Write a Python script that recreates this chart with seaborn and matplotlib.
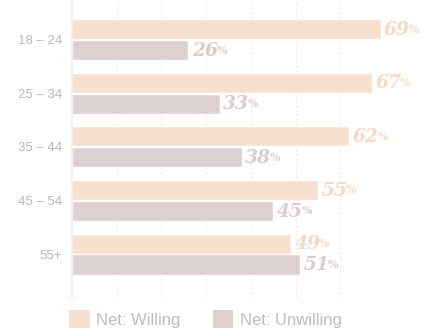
import pandas as pd
import seaborn as sns
import matplotlib.pyplot as plt
from matplotlib.patches import Patch

AGE_GROUPS = ["18 – 24", "25 – 34", "35 – 44", "45 – 54", "55+"]
WILLING = [69, 67, 62, 55, 49]
UNWILLING = [26, 33, 38, 45, 51]
SERIES = ["Net: Willing", "Net: Unwilling"]
COLORS = {"Net: Willing": "#f7e0cd", "Net: Unwilling": "#dcd1d0"}
LABEL_COLORS = {"Net: Willing": "#f5d9c2", "Net: Unwilling": "#d9cdcc"}

df = pd.DataFrame({
    "age": AGE_GROUPS * 2,
    "value": WILLING + UNWILLING,
    "series": [SERIES[0]] * len(AGE_GROUPS) + [SERIES[1]] * len(AGE_GROUPS),
})

sns.set_style("white")
plt.rcParams["font.family"] = ["Liberation Sans", "DejaVu Sans"]

fig = plt.figure(figsize=(4.24, 3.30), dpi=100)
ax = fig.add_axes([72 / 424, 1 - 298 / 330, 313 / 424, 298 / 330])

sns.barplot(data=df, y="age", x="value", hue="series", order=AGE_GROUPS,
            hue_order=SERIES, palette=COLORS, orient="h", width=0.78,
            gap=0.04, saturation=1, legend=False, ax=ax)

ax.set_xlim(0, 70)
ax.set_ylim(4.82, -0.737)
ax.set_xticks(range(10, 71, 10))
ax.xaxis.grid(True, linestyle=(0, (1.5, 2.5)), color="#e6e6e6", linewidth=0.8)
ax.set_axisbelow(True)
ax.tick_params(axis="x", length=0, labelbottom=False)
ax.tick_params(axis="y", length=0, pad=7, labelsize=9.5, labelcolor="#b8b8b8")
ax.set_xlabel("")
ax.set_ylabel("")
for side in ["top", "right", "bottom"]:
    ax.spines[side].set_visible(False)
ax.spines["left"].set_color("#eeeeee")
ax.spines["left"].set_linewidth(1.2)

# value labels: big italic number then a small percent sign
for container, name in zip(ax.containers, SERIES):
    for bar in container:
        val = bar.get_width()
        yc = bar.get_y() + bar.get_height() / 2
        num = ax.annotate(f"{int(val)}", xy=(val, yc), xytext=(2.5, -0.5),
                          textcoords="offset points", va="center", ha="left",
                          fontsize=13.5, fontweight="bold", fontstyle="italic",
                          family="DejaVu Serif", color=LABEL_COLORS[name],
                          annotation_clip=False)
        ax.annotate("%", xy=(1, 0), xycoords=num, xytext=(-1, 3),
                    textcoords="offset points", va="bottom", ha="left",
                    fontsize=8, fontweight="bold",
                    family="DejaVu Serif", color=LABEL_COLORS[name],
                    annotation_clip=False)

handles = [Patch(facecolor=COLORS[s], edgecolor="none") for s in SERIES]
fig.legend(handles, SERIES, loc="center left", bbox_to_anchor=(69 / 424, 11 / 330),
           ncol=2, frameon=False, fontsize=12, labelcolor="#bdbdbd",
           handlelength=1.25, handleheight=1.25, handletextpad=0.4,
           columnspacing=1.9, borderpad=0, borderaxespad=0)

fig.savefig("out.png", dpi=100)
